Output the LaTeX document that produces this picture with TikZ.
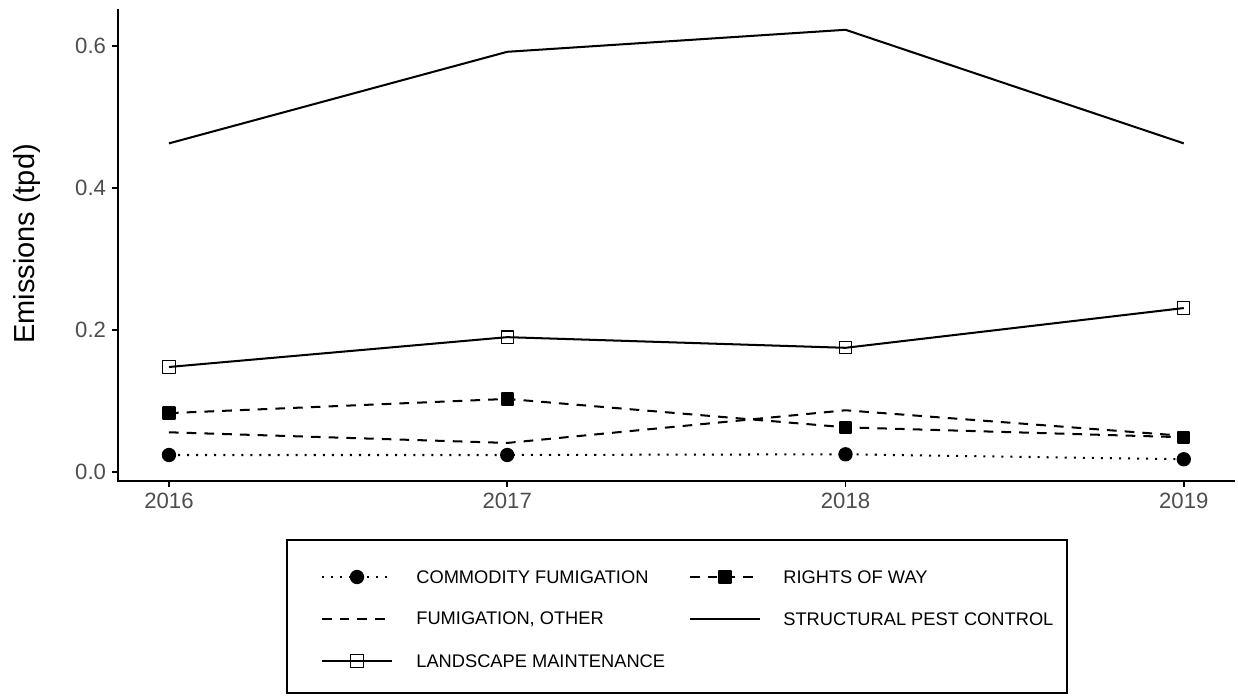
\documentclass[tikz,border=0pt]{standalone}
\usepackage{fontspec}
\setmainfont{Liberation Sans}
\usetikzlibrary{plotmarks}
\definecolor{tickgrey}{HTML}{4D4D4D}
\tikzset{
  axis/.style={line width=1.1pt, line cap=butt},
  series/.style={line width=1.15pt, line join=round},
  dotline/.style={series, dash pattern=on 1.15pt off 4pt},
  dashline/.style={series, dash pattern=on 5.5pt off 4.6pt},
  ticklabel/.style={text=tickgrey, inner sep=3pt, font=\fontsize{12.6}{14}\selectfont},
  keylabel/.style={anchor=west, inner sep=0pt, font=\fontsize{10.4}{12}\selectfont},
  opensq/.style={mark=square, mark options={solid, line width=0.6pt, mark size=3.5pt}},
  fullsq/.style={mark=square*, mark options={solid, mark size=3.2pt}},
  dotmark/.style={mark=*, mark options={solid, mark size=3.5pt}}
}
\begin{document}
\begin{tikzpicture}[x=0.02cm, y=0.02cm]
  \useasboundingbox (0,0) rectangle (1238,696);
  \node[rotate=90, font=\fontsize{16.5}{18}\selectfont] (ytitle) at (27,452) {Emissions (tpd)};
  \begin{scope}[shift={(3.38cm,4.48cm)}, x=6.7667cm, y=14.2cm]
    \draw[axis] (-0.15,0.6527) -- (-0.15,-0.0123) -- (3.15,-0.0123);
    \foreach \v/\t [count=\n] in {0/0.0, 0.2/0.2, 0.4/0.4, 0.6/0.6}
      \draw[axis] (-0.15,\v) -- ++(-3.4pt,0) node[ticklabel, anchor=east] (ytick\n) {\t};
    \foreach \yr [count=\i from 0] in {2016,2017,2018,2019}
      \draw[axis] (\i,-0.0123) -- ++(0,-3.4pt) node[ticklabel, anchor=north] (xtick\yr) {\yr};
    \draw[series] plot coordinates {(0,0.463) (1,0.592) (2,0.623) (3,0.463)};
    \draw[series] plot[opensq] coordinates {(0,0.148) (1,0.190) (2,0.175) (3,0.231)};
    \draw[dashline] plot[fullsq] coordinates {(0,0.083) (1,0.103) (2,0.063) (3,0.049)};
    \draw[dashline] plot coordinates {(0,0.056) (1,0.041) (2,0.087) (3,0.051)};
    \draw[dotline] plot[dotmark] coordinates {(0,0.024) (1,0.024) (2,0.025) (3,0.018)};
  \end{scope}
  \draw[line width=0.8pt] (287,3) rectangle (1067,156);
  \draw[dotline] (322,119) -- (392,119);
  \draw[dotline] plot[dotmark] coordinates {(357,119)};
  \node[keylabel] (keyfum) at (416,119) {COMMODITY FUMIGATION};
  \draw[dashline] (690,119) -- (760,119);
  \draw[dashline] plot[fullsq] coordinates {(725,119)};
  \node[keylabel] (keyrow) at (783,119) {RIGHTS OF WAY};
  \draw[dashline] (322,77) -- (392,77);
  \node[keylabel] (keyoth) at (416,77) {FUMIGATION, OTHER};
  \draw[series] (690,77) -- (760,77);
  \node[keylabel] (keyspc) at (783,77) {STRUCTURAL PEST CONTROL};
  \draw[series] (322,35) -- (392,35);
  \draw[series] plot[opensq] coordinates {(357,35)};
  \node[keylabel] (keylm) at (416,35) {LANDSCAPE MAINTENANCE};
\end{tikzpicture}
\end{document}
